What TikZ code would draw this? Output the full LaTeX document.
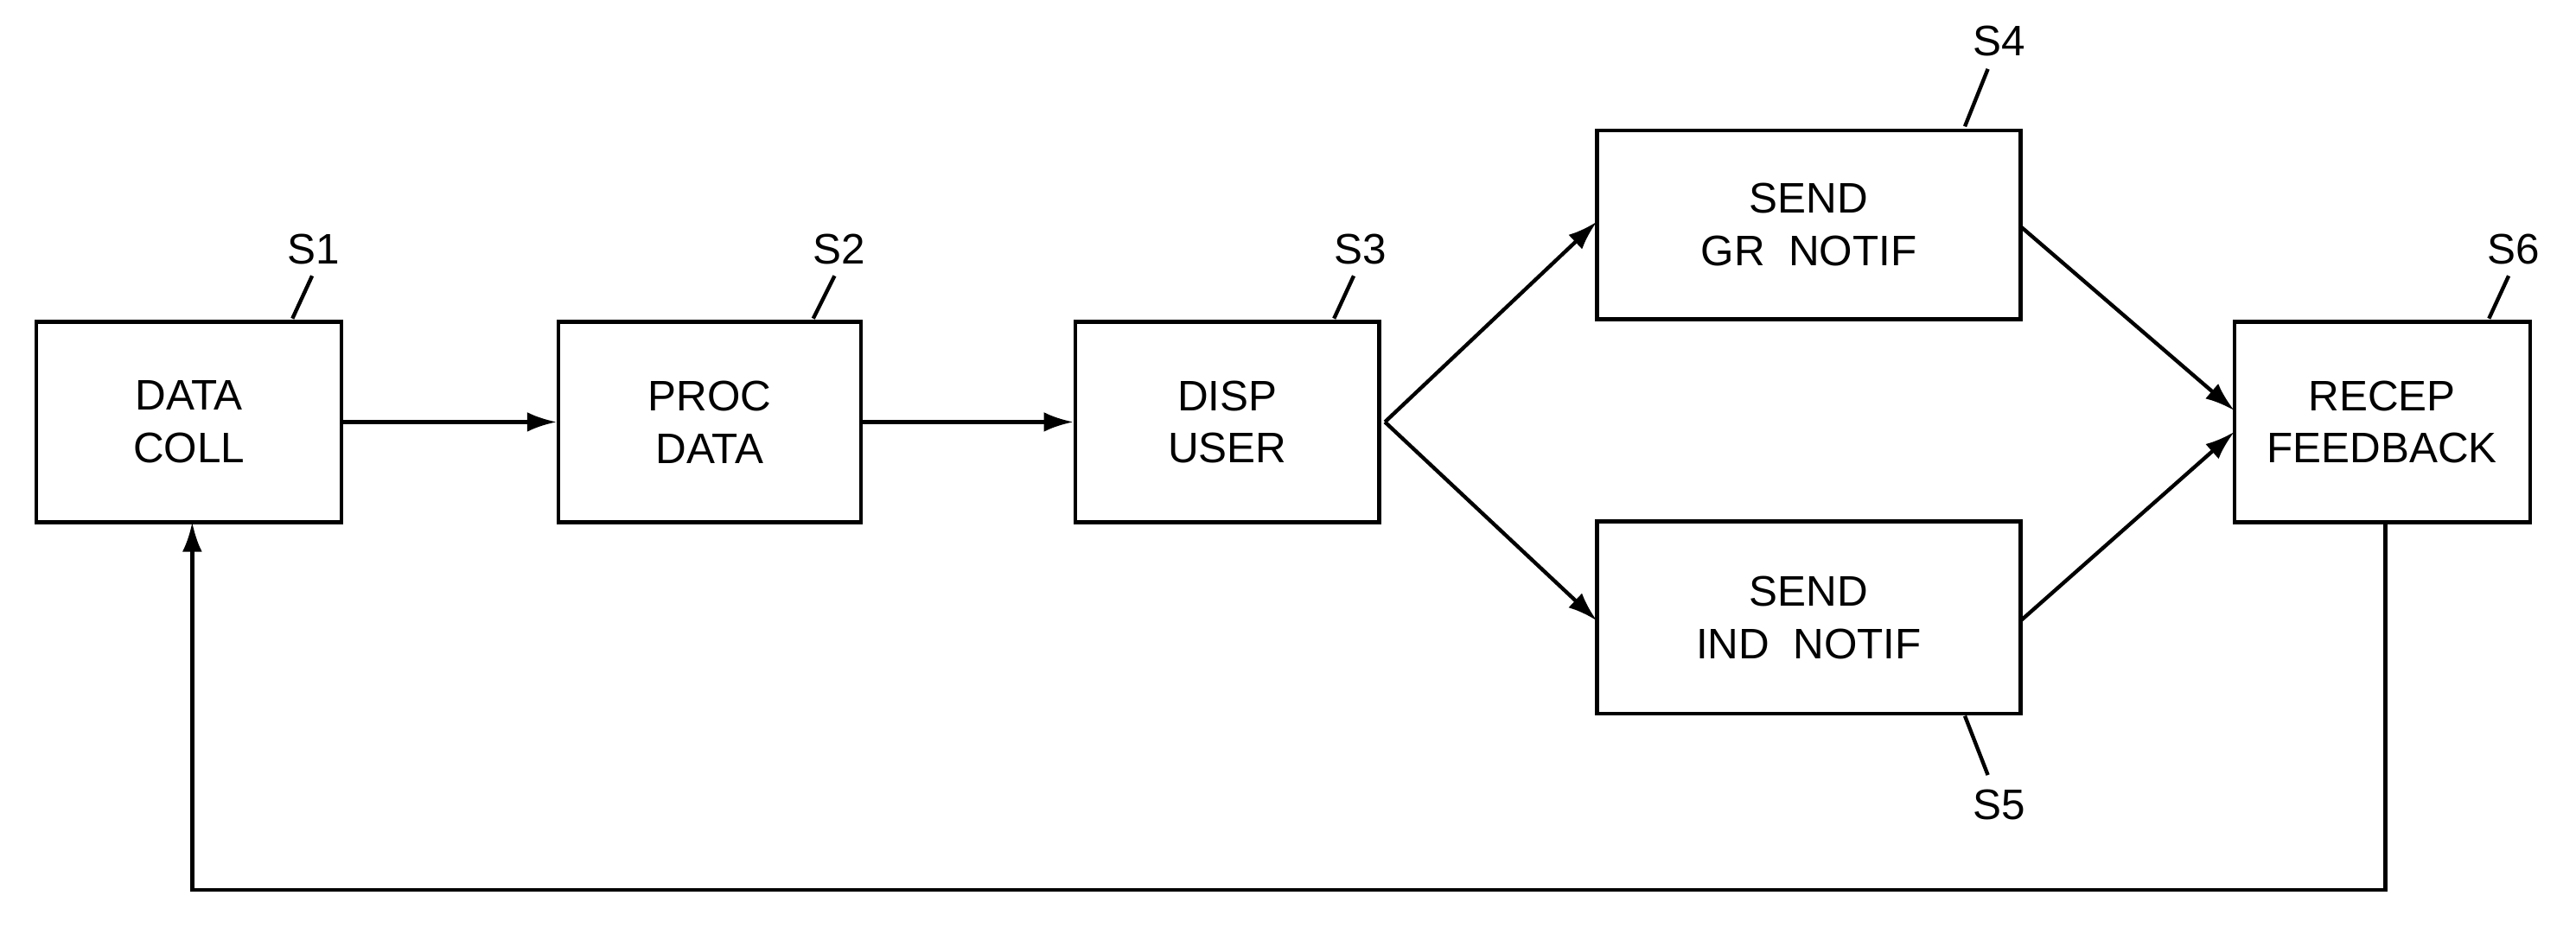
\documentclass[tikz,border=0pt]{standalone}
\usepackage{fontspec}
\setmainfont{Liberation Sans}
\usetikzlibrary{arrows.meta}
\begin{document}
\begin{tikzpicture}[x=1pt,y=-1pt,line width=2.3pt,
  box/.style={draw,inner sep=0pt,align=center,font=\fontsize{26}{32}\selectfont},
  lab/.style={font=\fontsize{26}{30}\selectfont},
  arr/.style={-{Latex[length=18pt,width=12pt]}}]
\useasboundingbox (0,0) rectangle (1568,572);
\node[box,minimum width=186pt,minimum height=122pt] (s1) at (115,257) {DATA\\COLL};
\node[box,minimum width=184pt,minimum height=122pt] (s2) at (432,257) {PROC\\DATA};
\node[box,minimum width=185pt,minimum height=122pt] (s3) at (747,257) {DISP\\USER};
\node[box,minimum width=258pt,minimum height=115pt] (s4) at (1101,137) {SEND\\GR\ \ NOTIF};
\node[box,minimum width=258pt,minimum height=117pt] (s5) at (1101,376) {SEND\\IND\ \ NOTIF};
\node[box,minimum width=180pt,minimum height=122pt] (s6) at (1450,257) {RECEP\\FEEDBACK};
\draw[arr] (s1.east) -- (s2.west);
\draw[arr] (s2.east) -- (s3.west);
\coordinate (j) at (843,257);
\draw[arr] (j) -- (972,135);
\draw[arr] (j) -- (972,378);
\draw[arr] (1230,138) -- (1360,250);
\draw[arr] (1230,378) -- (1360,263);
\coordinate (b6) at (1452,318);
\coordinate (c1) at (1452,542);
\coordinate (c2) at (117,542);
\draw[arr] (b6) -- (c1) -- (c2) -- (117,318);
\node[lab] (l1) at (191,152) {S1};
\node[lab] (l2) at (511,152) {S2};
\node[lab] (l3) at (828,152) {S3};
\node[lab] (l4) at (1217,25) {S4};
\node[lab] (l5) at (1217,490) {S5};
\node[lab] (l6) at (1530,152) {S6};
\draw (178,194) -- (190,168);
\draw (495,194) -- (508,168);
\draw (812,194) -- (824,168);
\draw (1196,77) -- (1210,42);
\draw (1196,436) -- (1210,472);
\draw (1515,194) -- (1527,168);
\end{tikzpicture}
\end{document}
